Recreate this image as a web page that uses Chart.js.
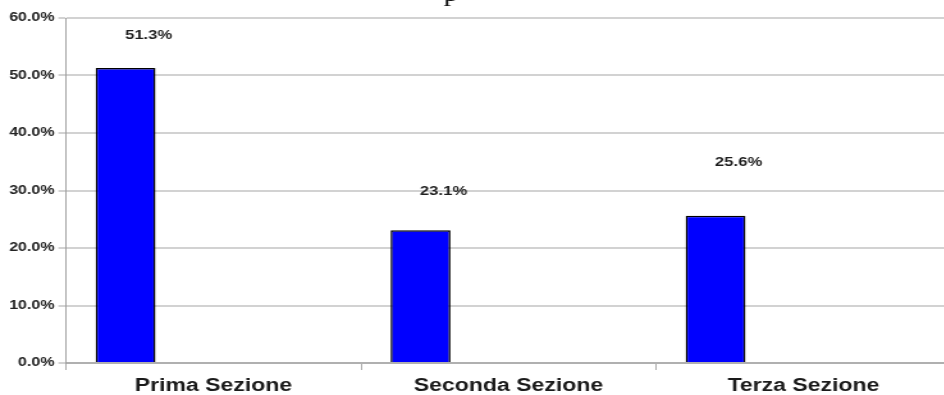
<!DOCTYPE html>
<html>
<head>
<meta charset="utf-8">
<script src="https://cdn.jsdelivr.net/npm/chart.js@4"></script>
<style>
  html, body { margin: 0; padding: 0; background: #fff; overflow: hidden; }
  #frame { width: 944px; height: 395px; overflow: hidden; position: relative; }
  /* the whole drawing is widened horizontally */
  #stage { width: 744px; height: 395px; transform: scaleX(1.28); transform-origin: 0 0; }
</style>
</head>
<body>
<div id="frame"><div id="stage"><canvas id="chart" width="744" height="395"></canvas></div></div>
<script>
const categories = ['Prima Sezione', 'Seconda Sezione', 'Terza Sezione'];
const shares = [51.3, 23.1, 25.6];
const yTicks = [0, 10, 20, 30, 40, 50, 60];

// vertical lift of each value label above its bar (px)
const labelLift = [-33, -39, -53];

const FONT = '"Liberation Sans", Arial, Helvetica, sans-serif';

const valueLabels = {
  id: 'valueLabels',
  afterDatasetsDraw(chart) {
    const ctx = chart.ctx;
    const meta = chart.getDatasetMeta(0);
    ctx.save();
    ctx.font = 'bold 13px ' + FONT;
    ctx.fillStyle = '#1e1e1e';
    ctx.textAlign = 'center';
    ctx.textBaseline = 'middle';
    meta.data.forEach((bar, i) => {
      ctx.fillText(shares[i].toFixed(1) + '%', bar.x + 18, bar.y + labelLift[i]);
    });
    ctx.restore();
  }
};

// lower edge of the heading that sits above the chart
const headingEdge = {
  id: 'headingEdge',
  afterDraw(chart) {
    const ctx = chart.ctx;
    ctx.save();
    ctx.font = '24px "Liberation Serif", "Times New Roman", serif';
    ctx.fillStyle = '#111';
    ctx.textAlign = 'left';
    ctx.textBaseline = 'alphabetic';
    ctx.fillText('p', 346.5, 1);
    ctx.restore();
  }
};

const spacer = () => categories.map(() => null);
const barStyle = {
  backgroundColor: '#0000ff',
  borderColor: '#000000',
  borderWidth: 1.5,
  barPercentage: 0.68,
  categoryPercentage: 0.895
};

new Chart(document.getElementById('chart'), {
  type: 'bar',
  data: {
    labels: categories,
    datasets: [
      Object.assign({ label: 'Quota', data: shares }, barStyle),
      Object.assign({ label: '', data: spacer() }, barStyle),
      Object.assign({ label: '', data: spacer() }, barStyle)
    ]
  },
  options: {
    responsive: false,
    animation: false,
    devicePixelRatio: 1,
    layout: { padding: { top: 18, right: 1, left: 0, bottom: 0 } },
    plugins: {
      legend: { display: false },
      tooltip: { enabled: false },
      title: { display: false }
    },
    scales: {
      x: {
        type: 'category',
        grid: {
          offset: true,
          drawOnChartArea: false,
          drawTicks: true,
          tickLength: 7,
          color: '#a8a8a8',
          lineWidth: 1
        },
        border: { display: true, color: '#b0b0b0', width: 2 },
        ticks: {
          color: '#1a1a1a',
          font: { family: FONT, size: 18, weight: 'bold' },
          padding: 5,
          maxRotation: 0,
          autoSkip: false
        },
        afterFit(scale) { scale.height = 32; }
      },
      y: {
        min: 0,
        max: 60,
        afterBuildTicks(scale) { scale.ticks = yTicks.map(v => ({ value: v })); },
        grid: {
          color: '#d2d2d2',
          lineWidth: 2,
          drawTicks: true,
          tickLength: 6
        },
        border: { display: true, color: '#a0a0a0', width: 1 },
        ticks: {
          color: '#222',
          font: { family: FONT, size: 12.5, weight: 'bold' },
          padding: 3,
          callback: v => v.toFixed(1) + '%'
        },
        afterFit(scale) { scale.width = 51.6; }
      }
    }
  },
  plugins: [valueLabels, headingEdge]
});
</script>
</body>
</html>
